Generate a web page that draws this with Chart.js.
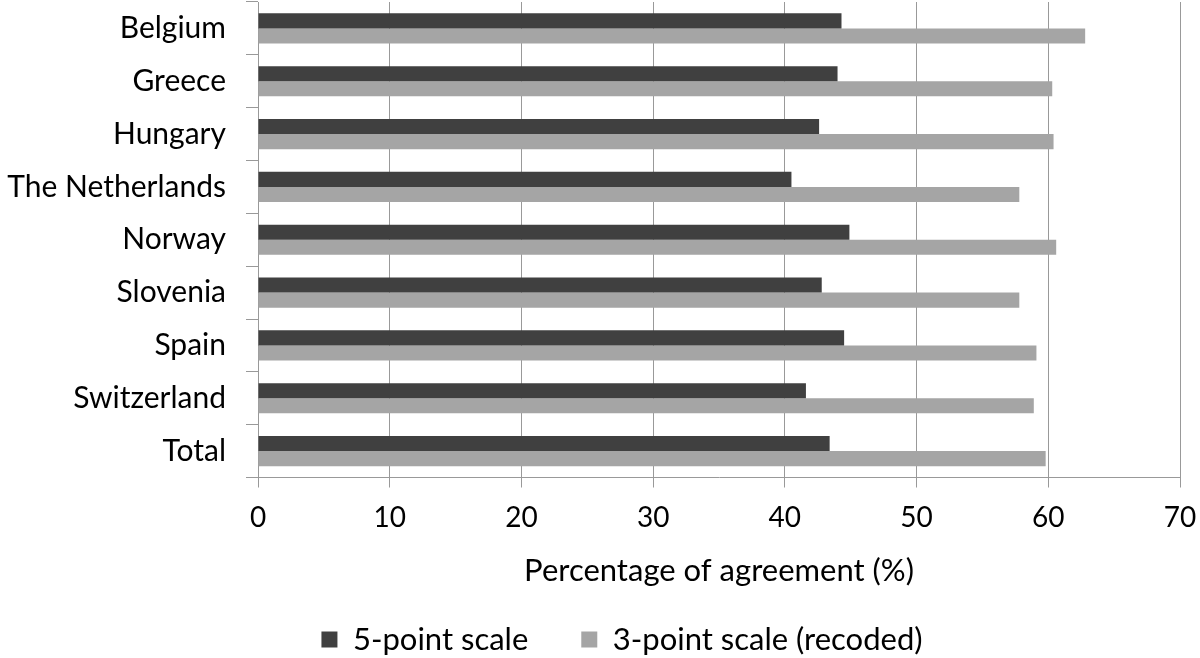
<!DOCTYPE html>
<html>
<head>
<meta charset="utf-8">
<script src="https://cdn.jsdelivr.net/npm/chart.js@4"></script>
<style>
  html, body { margin: 0; padding: 0; background: #fff; }
  #wrap { width: 1200px; height: 658px; }
</style>
</head>
<body>
<div id="wrap"><canvas id="agreeChart"></canvas></div>
<script>
// values
const countries = ['Belgium', 'Greece', 'Hungary', 'The Netherlands', 'Norway', 'Slovenia', 'Spain', 'Switzerland', 'Total'];
const fivePoint = [44.3, 44.0, 42.6, 40.5, 44.9, 42.8, 44.5, 41.6, 43.4];
const threePoint = [62.8, 60.3, 60.4, 57.8, 60.6, 57.8, 59.1, 58.9, 59.8];
const seriesNames = ['5-point scale', '3-point scale (recoded)'];
const xTicks = [0, 10, 20, 30, 40, 50, 60, 70];

const fontFamily = 'Lato, "Open Sans", sans-serif';

// nudge the legend sideways to where the original has it
const shiftLegend = {
    id: 'shiftLegend',
    afterLayout(chart) {
        chart.legend.left += 32;
        chart.legend.right += 32;
    }
};

new Chart(document.getElementById('agreeChart'), {
    type: 'bar',
    data: {
        labels: countries,
        datasets: [
            { label: seriesNames[0], data: fivePoint, backgroundColor: '#404040', categoryPercentage: 0.57, barPercentage: 1 },
            { label: seriesNames[1], data: threePoint, backgroundColor: '#a5a5a5', categoryPercentage: 0.57, barPercentage: 1 }
        ]
    },
    plugins: [shiftLegend],
    options: {
        indexAxis: 'y',
        responsive: true,
        maintainAspectRatio: false,
        animation: false,
        layout: { padding: { top: 2, right: 20, left: 0, bottom: -7 } },
        scales: {
            x: {
                min: 0,
                max: 70,
                afterBuildTicks: s => { s.ticks = xTicks.map(v => ({ value: v })); },
                afterFit: s => {
                    s.height = 93.5;
                    s.paddingLeft = 0;
                    s.paddingRight = 0;
                },
                grid: { color: '#999', lineWidth: 1, tickLength: 10 },
                border: { color: '#999' },
                ticks: { color: '#000', font: { family: fontFamily, size: 28 }, padding: 14 },
                title: {
                    display: true,
                    text: 'Percentage of agreement (%)',
                    color: '#000',
                    font: { family: fontFamily, size: 31 },
                    padding: { top: 0, bottom: -19 }
                }
            },
            y: {
                afterFit: s => {
                    s.width = 258;
                    s.paddingTop = 0;
                    s.paddingBottom = 0;
                },
                grid: { drawOnChartArea: false, color: '#999', tickLength: 12, offset: true },
                border: { color: '#999' },
                ticks: { color: '#000', font: { family: fontFamily, size: 30 }, padding: 20 }
            }
        },
        plugins: {
            legend: {
                position: 'bottom',
                labels: {
                    color: '#000',
                    font: { family: fontFamily, size: 31 },
                    boxWidth: 16,
                    boxHeight: 16,
                    padding: 53
                }
            },
            tooltip: { enabled: false }
        }
    }
});
</script>
</body>
</html>
